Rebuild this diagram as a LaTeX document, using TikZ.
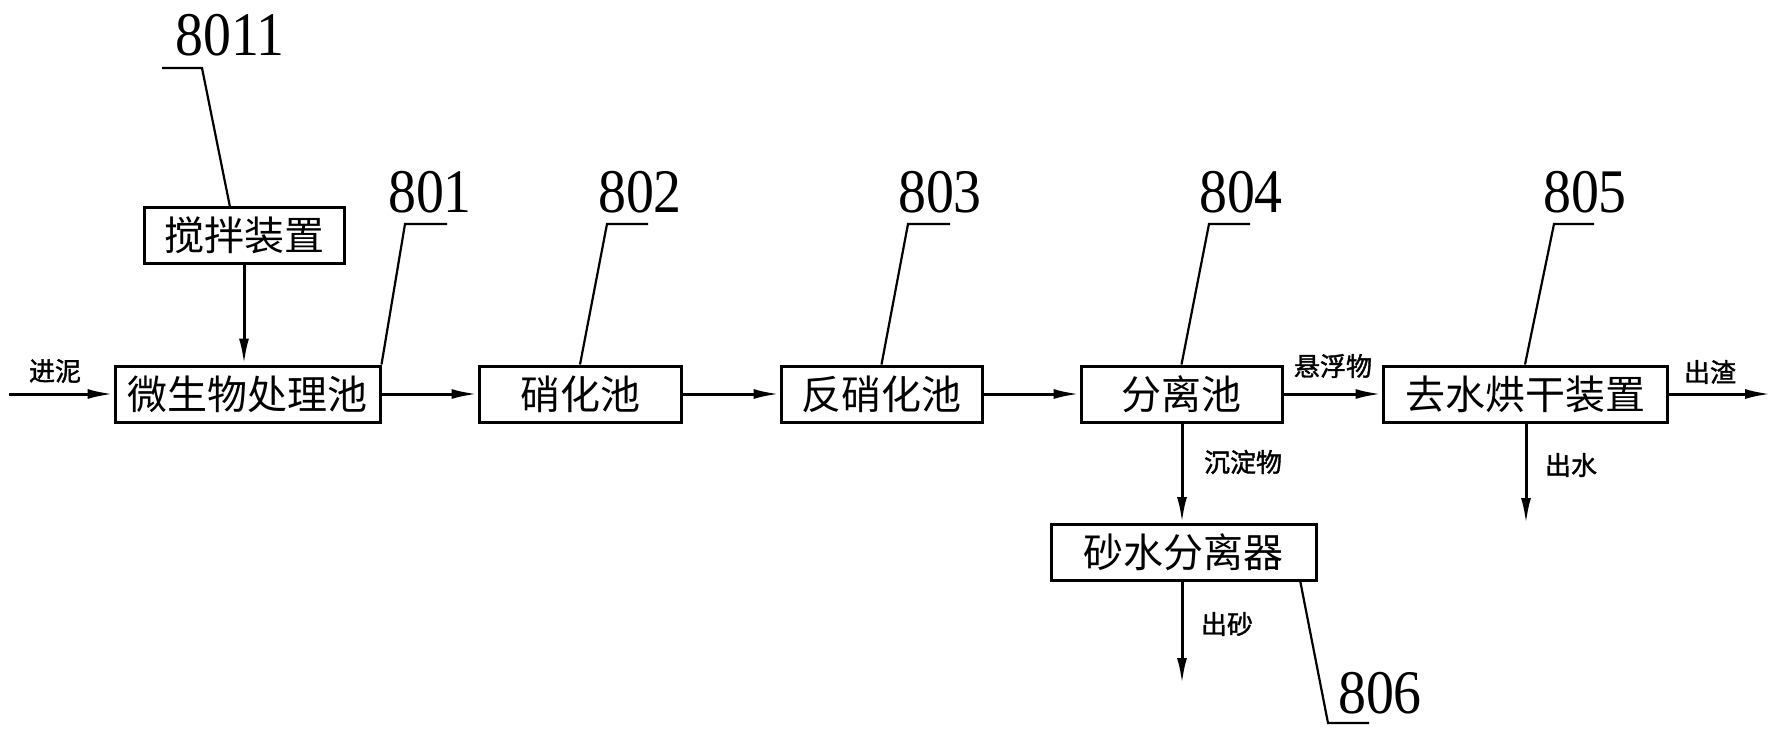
\documentclass[tikz,border=0pt]{standalone}
\usepackage{fontspec}
\setmainfont{Liberation Serif}
\newfontfamily\cjk{Noto Sans CJK SC}
\newfontfamily\cjkb{Noto Sans CJK SC}[FakeBold=1.5]
\newfontfamily\numf{Liberation Serif}[FakeStretch=0.9]
\usetikzlibrary{arrows.meta}
\begin{document}
\begin{tikzpicture}[x=1pt,y=-1pt,
  box/.style={draw, line width=3pt, inner sep=0pt, minimum height=56pt,
    font=\cjk\fontsize{40}{40}\selectfont},
  num/.style={inner sep=0pt, anchor=base, font=\numf\fontsize{62}{62}\selectfont},
  lbl/.style={inner sep=0pt, font=\cjkb\fontsize{26}{26}\selectfont},
  arr/.style={line width=3pt, -{Latex[length=26pt,width=10pt]}},
  lead/.style={line width=2.2pt, line join=miter}]
\useasboundingbox (0,0) rectangle (1775,731);

% boxes
\node[box, minimum width=200pt] (stir) at (244,235) {搅拌装置};
\node[box, minimum width=265pt] (micro) at (247.5,394) {微生物处理池};
\node[box, minimum width=202pt] (nitr) at (580,394) {硝化池};
\node[box, minimum width=201pt] (denitr) at (881.5,394) {反硝化池};
\node[box, minimum width=201pt] (sep) at (1181.5,394) {分离池};
\node[box, minimum width=284pt] (dry) at (1525,394) {去水烘干装置};
\node[box, minimum width=265pt] (sand) at (1183.5,552.5) {砂水分离器};

% free ends
\coordinate (in) at (9,394);
\coordinate (outslag) at (1771,394);
\coordinate (outwater) at (1526,524);
\coordinate (outsand) at (1182,684);

% flow arrows
\draw[arr] (in) -- (micro.west);
\draw[arr] (stir.south) -- (stir.south |- micro.north);
\draw[arr] (micro.east) -- (nitr.west);
\draw[arr] (nitr.east) -- (denitr.west);
\draw[arr] (denitr.east) -- (sep.west);
\draw[arr] (sep.east) -- (dry.west);
\draw[arr] (dry.east) -- (outslag);
\draw[arr] (sep.south -| outsand) -- (sand.north -| outsand);
\draw[arr] (sand.south -| outsand) -- (outsand);
\draw[arr] (dry.south -| outwater) -- (outwater);

% flow labels
\node[lbl] (tin) at (55,371) {进泥};
\node[lbl] (tsusp) at (1333,366) {悬浮物};
\node[lbl] (tslag) at (1710,372) {出渣};
\node[lbl] (tsed) at (1243,462) {沉淀物};
\node[lbl] (twater) at (1571,465) {出水};
\node[lbl] (tsand) at (1227,624) {出砂};

% reference numbers
\node[num] (n8011) at (230,55) {8011};
\node[num] (n801) at (430,212) {801};
\node[num] (n802) at (640,212) {802};
\node[num] (n803) at (940,212) {803};
\node[num] (n804) at (1241,212) {804};
\node[num] (n805) at (1585,212) {805};
\node[num] (n806) at (1380,713) {806};

% leader lines
\coordinate (k8011) at (202,68);
\coordinate (e8011) at (162,68);
\coordinate (s8011) at (230,207);
\draw[lead] (s8011) -- (k8011) -- (e8011);

\coordinate (k801) at (405,224);
\coordinate (e801) at (447,224);
\draw[lead] (micro.north east) -- (k801) -- (e801);

\coordinate (k802) at (607,224);
\coordinate (e802) at (648,224);
\draw[lead] (nitr.north) -- (k802) -- (e802);

\coordinate (k803) at (908,224);
\coordinate (e803) at (950,224);
\draw[lead] (denitr.north) -- (k803) -- (e803);

\coordinate (k804) at (1209,224);
\coordinate (e804) at (1250,224);
\draw[lead] (sep.north) -- (k804) -- (e804);

\coordinate (k805) at (1554,224);
\coordinate (e805) at (1594,224);
\draw[lead] (dry.north) -- (k805) -- (e805);

\coordinate (s806) at (1300,580);
\coordinate (k806) at (1328,723);
\coordinate (e806) at (1369,723);
\draw[lead] (s806) -- (k806) -- (e806);
\end{tikzpicture}
\end{document}
